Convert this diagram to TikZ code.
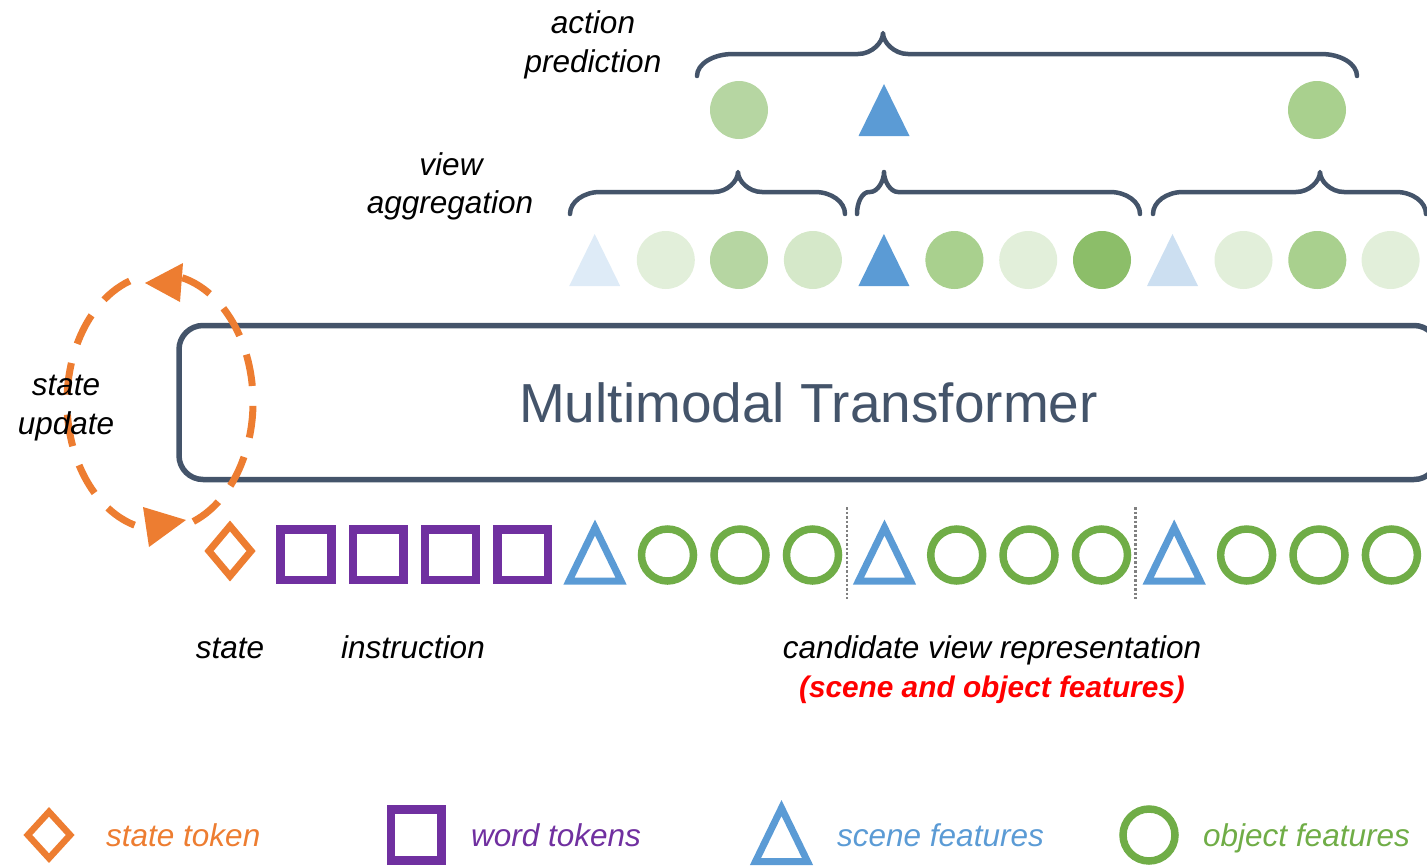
\documentclass[tikz,border=0pt]{standalone}
\usepackage{fontspec}
\setmainfont{Liberation Sans}
\usetikzlibrary{shapes.geometric}

\definecolor{orng}{HTML}{ED7D31}
\definecolor{purp}{HTML}{7030A0}
\definecolor{sblue}{HTML}{5B9BD5}
\definecolor{ogreen}{HTML}{70AD47}
\definecolor{slate}{HTML}{44546A}
\definecolor{dotgray}{HTML}{808080}
\definecolor{gA}{HTML}{E2EFDA}
\definecolor{gB}{HTML}{D5E8C9}
\definecolor{gC}{HTML}{B6D6A2}
\definecolor{gD}{HTML}{A9D08E}
\definecolor{gE}{HTML}{8CBE69}
\definecolor{bA}{HTML}{DEEBF7}
\definecolor{bB}{HTML}{CCDFF1}

% curly brace: x1, tip x, x2, line y, foot y, tip y, left end dx, tip dx, right end dx
\newcommand{\curlybrace}[9]{%
  \pgfmathsetmacro\cbA{#1+#7}%
  \pgfmathsetmacro\cbB{#1+0.45*#7}%
  \pgfmathsetmacro\cbC{#5-0.55*(#5-#4)}%
  \pgfmathsetmacro\cbD{#2-#8}%
  \pgfmathsetmacro\cbE{#2-0.45*#8}%
  \pgfmathsetmacro\cbF{#4-0.55*(#4-#6)}%
  \pgfmathsetmacro\cbG{#2+#8}%
  \pgfmathsetmacro\cbH{#2+0.45*#8}%
  \pgfmathsetmacro\cbI{#3-#9}%
  \pgfmathsetmacro\cbJ{#3-0.45*#9}%
  \draw[bracestyle] (#1,#5) .. controls (#1,\cbC) and (\cbB,#4) .. (\cbA,#4)
    -- (\cbD,#4) .. controls (\cbE,#4) and (#2,\cbF) .. (#2,#6)
    .. controls (#2,\cbF) and (\cbH,#4) .. (\cbG,#4)
    -- (\cbI,#4) .. controls (\cbJ,#4) and (#3,\cbC) .. (#3,#5);}

\begin{document}
\begin{tikzpicture}[x=1pt,y=-1pt,
  lbl/.style={font=\fontsize{31.5}{38}\selectfont\itshape, inner sep=0pt, anchor=base},
  bracestyle/.style={draw=slate, line width=4.5pt, line cap=round, line join=round},
  fcirc/.style={circle, minimum size=58pt, inner sep=0pt, draw=none},
  ocirc/.style={circle, draw=ogreen, line width=7.5pt, minimum size=52pt, inner sep=0pt},
  wsq/.style={rectangle, draw=purp, line width=8.5pt, minimum size=50.8pt, inner sep=0pt},
  sdiam/.style={diamond, draw=orng, line width=7pt, inner sep=0pt, minimum width=45pt, minimum height=53pt},
  loopline/.style={draw=orng, line width=7pt, dash pattern=on 32pt off 20pt},
  loophead/.style={fill=orng},
  divider/.style={draw=dotgray, line width=2.5pt, dash pattern=on 2.5pt off 2pt},
  pics/otri/.style={code={\draw[sblue, line width=7pt, miter limit=10]
      (0,-25) -- (26,28.5) -- (-26,28.5) -- cycle;}},
  pics/ftri/.style={code={\fill[#1] (0,-26) -- (25.5,26) -- (-25.5,26) -- cycle;}},
]
\useasboundingbox (0,0) rectangle (1427,865);

% transformer block
\node[draw=slate, line width=5.5pt, rounded corners=24pt, minimum width=1259pt,
      minimum height=154pt, inner sep=0pt, text=slate,
      font=\fontsize{55}{60}\selectfont] (mt) at (808.5,402.5) {Multimodal Transformer};

% state update loop: two dashed arcs of one ellipse, each ending in a head
\coordinate (lc) at (160,402);
\draw[loopline] ([shift={(69:93 and 128)}]lc) arc[start angle=69, end angle=-77, x radius=93, y radius=128];
\draw[loopline] ([shift={(251:93 and 128)}]lc) arc[start angle=251, end angle=99, x radius=93, y radius=128];
\fill[loophead] (145,283) -- (183,263) -- (180,302) -- cycle;
\fill[loophead] (186,520) -- (143,507) -- (149,547) -- cycle;
\node[lbl] (su1) at (66,395) {state};
\node[lbl] (su2) at (66,434) {update};

% input token row
\node[sdiam] (st) at (230,551) {};
\node[wsq] (w1) at (306,554.7) {};
\node[wsq] (w2) at (378.3,554.7) {};
\node[wsq] (w3) at (450.5,554.7) {};
\node[wsq] (w4) at (522.7,554.7) {};
\pic at (595,552.5) {otri};
\node[ocirc] (o1) at (667.5,555) {};
\node[ocirc] (o2) at (740,555) {};
\node[ocirc] (o3) at (812.5,555) {};
\pic at (884.5,552.5) {otri};
\node[ocirc] (o4) at (956.7,555) {};
\node[ocirc] (o5) at (1029,555) {};
\node[ocirc] (o6) at (1101.5,555) {};
\pic at (1174.2,552.5) {otri};
\node[ocirc] (o7) at (1246.6,555) {};
\node[ocirc] (o8) at (1319,555) {};
\node[ocirc] (o9) at (1391.4,555) {};

\coordinate (d1t) at (847,507);
\coordinate (d1b) at (847,599);
\coordinate (d2t) at (1135.5,507);
\coordinate (d2b) at (1135.5,599);
\draw[divider] (d1t) -- (d1b);
\draw[divider] (d2t) -- (d2b);

% row labels
\node[lbl] (lst) at (230,658) {state};
\node[lbl] (lin) at (413,658) {instruction};
\node[lbl] (lcv) at (992,658) {candidate view representation};
\node[lbl, text=red, font=\fontsize{29.8}{36}\selectfont\bfseries\itshape] (lsf) at (992,697) {(scene and object features)};

% view aggregation row
\pic at (594.7,260) {ftri=bA};
\node[fcirc, fill=gA] (v1) at (665.8,260) {};
\node[fcirc, fill=gC] (v2) at (739,260) {};
\node[fcirc, fill=gB] (v3) at (812.9,260) {};
\pic at (883.9,260) {ftri=sblue};
\node[fcirc, fill=gD] (v4) at (954.4,260) {};
\node[fcirc, fill=gA] (v5) at (1028.2,260) {};
\node[fcirc, fill=gE] (v6) at (1102,260) {};
\pic at (1172.5,260) {ftri=bB};
\node[fcirc, fill=gA] (v7) at (1243.5,260) {};
\node[fcirc, fill=gD] (v8) at (1317.3,260) {};
\node[fcirc, fill=gA] (v9) at (1390.6,260) {};

\curlybrace{570}{738}{845}{192}{214}{172}{30}{24}{30}
\curlybrace{857}{884}{1140}{192}{214}{172}{12}{14}{30}
\curlybrace{1153}{1320}{1426}{192}{214}{172}{30}{24}{30}
\node[lbl] (va1) at (451,175) {view};
\node[lbl] (va2) at (450,213) {aggregation};

% action prediction row
\node[fcirc, fill=gC] (a1) at (739,110) {};
\pic at (884,110) {ftri=sblue};
\node[fcirc, fill=gD] (a2) at (1317,110) {};
\curlybrace{697}{883}{1357}{54}{76}{33}{36}{25}{36}
\node[lbl] (ap1) at (593,33) {action};
\node[lbl] (ap2) at (593,72) {prediction};

% legend
\node[sdiam, line width=6.5pt, minimum width=45pt, minimum height=49pt] (kst) at (49,835) {};
\node[lbl, anchor=base west, text=orng] (kstt) at (106,846) {state token};
\node[wsq] (kw) at (416.3,835) {};
\node[lbl, anchor=base west, text=purp] (kwt) at (471,846) {word tokens};
\pic at (781.5,833) {otri};
\node[lbl, anchor=base west, text=sblue] (kbt) at (837,846) {scene features};
\node[ocirc] (kc) at (1149,835) {};
\node[lbl, anchor=base west, text=ogreen] (kct) at (1203,846) {object features};
\end{tikzpicture}
\end{document}
